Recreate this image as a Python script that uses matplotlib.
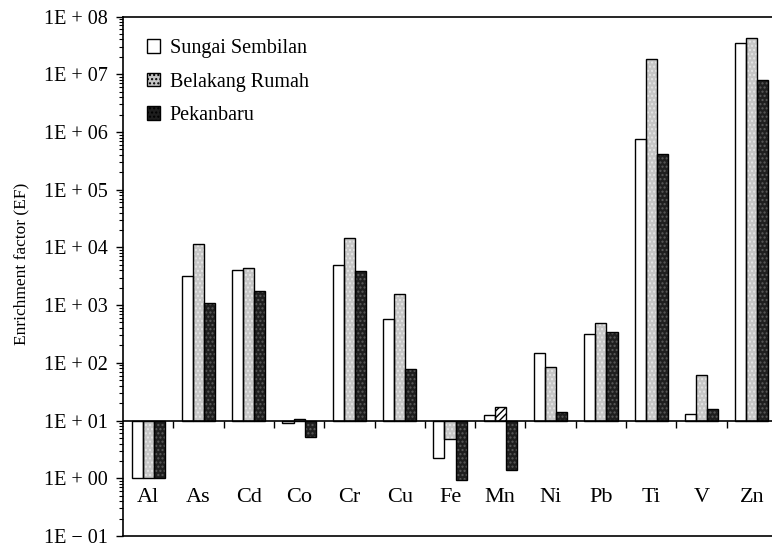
import matplotlib
matplotlib.use("Agg")
import matplotlib.pyplot as plt
from matplotlib.patches import Patch
from matplotlib.ticker import FixedLocator, FuncFormatter, LogLocator, NullFormatter
import numpy as np

categories = ['Al', 'As', 'Cd', 'Co', 'Cr', 'Cu', 'Fe', 'Mn', 'Ni', 'Pb', 'Ti', 'V', 'Zn']
series_names = ['Sungai Sembilan', 'Belakang Rumah', 'Pekanbaru']
sungai = [1.0, 3140, 4050, 9.0, 4870, 573, 2.28, 12.4, 148, 315, 750000, 12.8, 3.5e7]
belakang = [1.0, 11400, 4320, 10.7, 14300, 1570, 4.82, 17, 85, 494, 1.83e7, 61, 4.16e7]
pekan = [1.0, 1080, 1730, 5.15, 3840, 79, 0.94, 1.4, 14.1, 345, 420000, 15.7, 8.1e6]
baseline = 10.0
ytick_vals = [1e-1, 1e0, 1e1, 1e2, 1e3, 1e4, 1e5, 1e6, 1e7, 1e8]

plt.rcParams['font.family'] = ['Liberation Serif', 'DejaVu Serif']
plt.rcParams['hatch.linewidth'] = 1.0

fig = plt.figure(figsize=(7.72, 5.46), dpi=100)
ax = fig.add_axes([123 / 772, 1 - 536 / 546, 654 / 772, 519.5 / 546])

x = np.arange(len(categories))
w = 0.22
styles = [
    dict(face='white', hatchcol='white', hatch=None),
    dict(face='#c6c6c6', hatchcol='#e6e6e6', hatch='....'),
    dict(face='#1e1e1e', hatchcol='#5a5a5a', hatch='....'),
]
all_series = [sungai, belakang, pekan]
for k, (vals, st) in enumerate(zip(all_series, styles)):
    vals = np.array(vals, dtype=float)
    xs = x + (k - 1) * w
    heights = vals - baseline
    under = ax.bar(xs, heights, width=w, bottom=baseline, color=st['face'],
                   edgecolor=st['hatchcol'], hatch=st['hatch'], linewidth=0, zorder=2)
    over = ax.bar(xs, heights, width=w, bottom=baseline, fill=False,
                  edgecolor='black', linewidth=1.0, zorder=3)
    if k == 1:
        i = categories.index('Mn')
        under[i].set_facecolor('white')
        under[i].set_edgecolor('black')
        under[i].set_hatch('/////')

ax.set_yscale('log')
ax.set_ylim(ytick_vals[0], ytick_vals[-1])
ax.set_xlim(-0.5, len(categories) - 0.5)

ax.yaxis.set_major_locator(FixedLocator(ytick_vals))
ax.yaxis.set_minor_locator(LogLocator(base=10, subs=np.arange(2, 10)))
ax.yaxis.set_minor_formatter(NullFormatter())

def fmt(v, pos):
    e = int(round(np.log10(v)))
    sign = '+' if e >= 0 else '\u2212'
    return f"1E {sign} {abs(e):02d}"

ax.yaxis.set_major_formatter(FuncFormatter(fmt))
ax.tick_params(axis='y', which='major', direction='out', length=5, width=1, labelsize=14.5, pad=6)
ax.tick_params(axis='y', which='minor', direction='out', length=3, width=0.8)
ax.tick_params(axis='x', which='both', bottom=False, labelbottom=False)

for s in ['left', 'top', 'bottom']:
    ax.spines[s].set_linewidth(1.2)
ax.spines['right'].set_visible(False)

# baseline line and category separator ticks
ax.axhline(baseline, color='black', lw=1.2, zorder=4)
tick_bottom = baseline * 10 ** (-7 / 57.72)
ax.vlines(x[:-1] + 0.5, tick_bottom, baseline, color='black', lw=1.0, zorder=4)
ax.vlines([x[-1] + 0.5], tick_bottom, baseline, color='black', lw=1.0, zorder=4, clip_on=False)

for xi, c in zip(x, categories):
    ax.text(xi, 0.47, c, ha='center', va='center', fontsize=16)

ax.set_ylabel('Enrichment factor (EF)', fontsize=12.5)
ax.yaxis.set_label_coords(-0.143, 0.524)

handles = [
    Patch(facecolor='white', edgecolor='black', linewidth=1.0),
    Patch(facecolor='#c6c6c6', edgecolor='#555555', hatch='....', linewidth=1.0),
    Patch(facecolor='#1e1e1e', edgecolor='#777777', hatch='....', linewidth=1.0),
]
leg = ax.legend(handles, series_names, loc='upper left', bbox_to_anchor=(0.025, 0.972),
                frameon=False, fontsize=14.5, handlelength=0.65, handleheight=0.65,
                handletextpad=0.45, labelspacing=0.72, borderaxespad=0)
for h in leg.legend_handles:
    h.set_edgecolor('black')

fig.savefig('out.png', dpi=100)
